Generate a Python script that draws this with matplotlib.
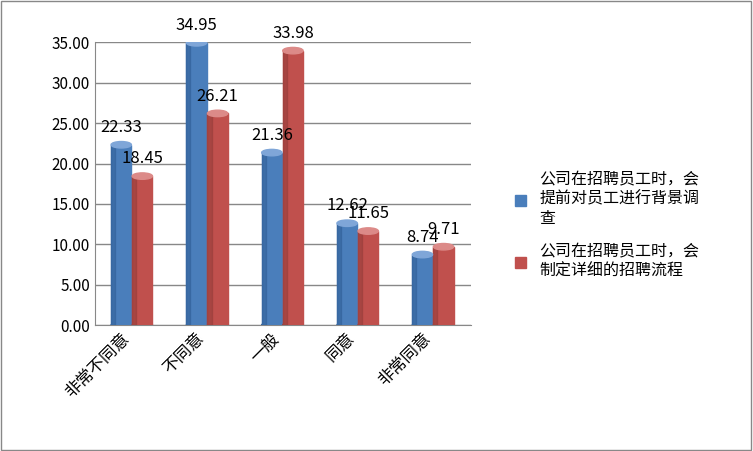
import matplotlib
matplotlib.use("Agg")
import matplotlib.pyplot as plt
from matplotlib.patches import Ellipse, Rectangle
import numpy as np

plt.rcParams['font.family'] = ['Noto Sans CJK SC', 'DejaVu Sans']

categories = ['非常不同意', '不同意', '一般', '同意', '非常同意']
series_names = ['公司在招聘员工时，会\n提前对员工进行背景调\n查', '公司在招聘员工时，会\n制定详细的招聘流程']
s1 = [22.33, 34.95, 21.36, 12.62, 8.74]
s2 = [18.45, 26.21, 33.98, 11.65, 9.71]
colors = [('#4a7ebb', '#2f5d95', '#7fa6d8'), ('#c0504d', '#923b38', '#dc8a88')]

fig = plt.figure(figsize=(7.53, 4.51), dpi=100)
ax = fig.add_axes([0.126, 0.279, 0.50, 0.627])
ax.set_xlim(-0.5, 4.5)
ax.set_ylim(0, 35)
ax.set_yticks(np.arange(0, 35.1, 5))
ax.set_yticklabels([f'{v:.2f}' for v in np.arange(0, 35.1, 5)], fontsize=11)
ax.yaxis.grid(True, color='#888888', lw=1)
ax.set_axisbelow(True)
for s in ['top', 'right']:
    ax.spines[s].set_visible(False)
ax.spines['left'].set_color('#888888')
ax.spines['bottom'].set_color('#888888')
ax.set_xticks(range(len(categories)))
ax.set_xticklabels(categories, rotation=45, ha='right', fontsize=12)
ax.tick_params(length=0)

w = 0.27
eh = 0.8
for si, (vals, off) in enumerate([(s1, -0.15), (s2, 0.13)]):
    main, dark, light = colors[si]
    for i, v in enumerate(vals):
        x = i + off
        ax.add_patch(Ellipse((x, 0), w, eh, color=dark, zorder=3))
        ax.add_patch(Rectangle((x - w/2, 0), w, v, color=main, zorder=3))
        ax.add_patch(Rectangle((x - w/2, 0), w*0.2, v, color=dark, zorder=3, alpha=0.5))
        ax.add_patch(Ellipse((x, v), w, eh, color=light, zorder=4))
        ax.text(x, v + 1.1, f'{v:.2f}', ha='center', va='bottom', fontsize=12, zorder=5)

handles = [Rectangle((0, 0), 1, 1, color=colors[i][0]) for i in range(2)]
fig.legend(handles, series_names, loc='center left', bbox_to_anchor=(0.665, 0.5),
           frameon=False, fontsize=11.5, handlelength=0.7, handleheight=0.7, labelspacing=1.0)

fig.patches.append(Rectangle((0.001, 0.002), 0.997, 0.996, transform=fig.transFigure,
                             fill=False, edgecolor='#888888', lw=1))
fig.savefig('out.png', dpi=100)
